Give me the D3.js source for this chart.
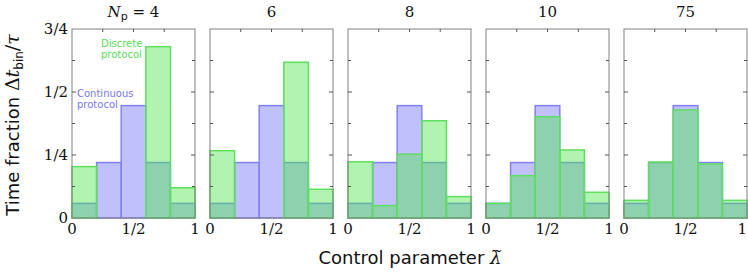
<!DOCTYPE html>
<html>
<head>
<meta charset="utf-8">
<script src="https://cdn.jsdelivr.net/npm/d3@7"></script>
<style>
  body { margin: 0; background: #fff; }
  .frame { fill: none; stroke: #808080; stroke-width: 1; }
  .tick { stroke: #555; stroke-width: 1; }
  .num { font-family: "DejaVu Serif", "Liberation Serif", serif; font-size: 15px; fill: #111; }
  .lab { font-family: "DejaVu Sans", sans-serif; font-size: 18px; fill: #111; }
  .leg { font-family: "DejaVu Sans", sans-serif; font-size: 10px; }
</style>
</head>
<body>
<script>
// panels: number of pulses N_p
var panels = ["4", "6", "8", "10", "75"];
var binEdges = [0, 0.2, 0.4, 0.6, 0.8, 1];

// continuous protocol histogram (same in every panel)
var continuous = [0.058, 0.22, 0.446, 0.22, 0.058];

// discrete protocol histograms, one per panel
var discrete = [
  [0.204, 0.0, 0.0, 0.68, 0.12],
  [0.267, 0.0, 0.0, 0.618, 0.114],
  [0.223, 0.049, 0.253, 0.386, 0.085],
  [0.058, 0.168, 0.402, 0.27, 0.102],
  [0.07, 0.222, 0.429, 0.214, 0.07]
];

var yTicks = [0, 0.25, 0.5, 0.75];
var yTickLabels = ["0", "1/4", "1/2", "3/4"];
var xTicks = [0, 0.5, 1];
var xTickLabels = ["0", "1/2", "1"];

var W = 748, H = 273;
var panelW = 123, gap = 15, left0 = 72, plotTop = 29, plotBottom = 218;

var svg = d3.select("body").append("svg").attr("width", W).attr("height", H);

var y = d3.scaleLinear().domain([0, 0.75]).range([plotBottom, plotTop]);

panels.forEach(function(p, k) {
  var x0 = left0 + k * (panelW + gap);
  var x = d3.scaleLinear().domain([0, 1]).range([x0, x0 + panelW]);
  var g = svg.append("g");

  var bins = continuous.map(function(v, i) {
    return {x0: binEdges[i], x1: binEdges[i + 1], c: v, d: discrete[k][i]};
  });

  // continuous bars
  g.selectAll("rect.cont").data(bins).enter().append("rect")
    .attr("x", function(d) { return x(d.x0); })
    .attr("width", function(d) { return x(d.x1) - x(d.x0); })
    .attr("y", function(d) { return y(d.c); })
    .attr("height", function(d) { return y(0) - y(d.c); })
    .attr("fill", "#c0c0fc")
    .attr("stroke", "#8080f2")
    .attr("stroke-width", 1.5);

  // discrete bars, translucent on top
  g.selectAll("rect.disc").data(bins).enter().append("rect")
    .attr("x", function(d) { return x(d.x0); })
    .attr("width", function(d) { return x(d.x1) - x(d.x0); })
    .attr("y", function(d) { return y(d.d); })
    .attr("height", function(d) { return y(0) - y(d.d); })
    .attr("fill", "rgba(80,230,80,0.45)")
    .attr("stroke", "#5ee05e")
    .attr("stroke-width", 1.5);

  // frame
  g.append("rect").attr("class", "frame")
    .attr("x", x0).attr("y", plotTop).attr("width", panelW).attr("height", plotBottom - plotTop);

  // y ticks (every 1/8) both sides
  d3.range(1, 6).forEach(function(i) {
    var v = i / 8, len = (i % 2 === 0) ? 4 : 3;
    g.append("line").attr("class", "tick")
      .attr("x1", x0).attr("x2", x0 + len).attr("y1", y(v)).attr("y2", y(v));
    g.append("line").attr("class", "tick")
      .attr("x1", x0 + panelW).attr("x2", x0 + panelW - len).attr("y1", y(v)).attr("y2", y(v));
  });
  // top ticks
  [0.25, 0.5, 0.75].forEach(function(v) {
    g.append("line").attr("class", "tick")
      .attr("x1", x(v)).attr("x2", x(v)).attr("y1", plotTop).attr("y2", plotTop + 3);
  });

  // x tick labels
  g.selectAll("text.xt").data(xTicks).enter().append("text")
    .attr("class", "num")
    .attr("x", function(d) { return x(d); })
    .attr("y", 234)
    .attr("text-anchor", function(d) { return (k === panels.length - 1 && d === 1) ? "end" : "middle"; })
    .text(function(d, i) { return xTickLabels[i]; });

  // title
  var t = g.append("text").attr("class", "num").attr("x", x0 + panelW / 2).attr("y", 17)
    .attr("text-anchor", "middle").attr("font-size", 16);
  if (k === 0) {
    t.append("tspan").attr("font-style", "italic").text("N");
    t.append("tspan").attr("font-family", "DejaVu Sans, sans-serif").attr("font-size", 11).attr("dy", 3).text("p");
    t.append("tspan").attr("dy", -3).text(" = " + p);
  } else {
    t.text(p);
  }
});

// y tick labels (first panel)
svg.selectAll("text.yt").data(yTicks).enter().append("text")
  .attr("class", "num")
  .attr("x", 68)
  .attr("y", function(d) { return y(d); })
  .attr("dy", "0.35em")
  .attr("text-anchor", "end")
  .text(function(d, i) { return yTickLabels[i]; });

// legend labels
var disc = svg.append("text").attr("class", "leg").attr("fill", "#55dd55");
disc.append("tspan").attr("x", 101).attr("y", 47).text("Discrete");
disc.append("tspan").attr("x", 101).attr("y", 58).text("protocol");
var cont = svg.append("text").attr("class", "leg").attr("fill", "#7878ee");
cont.append("tspan").attr("x", 77).attr("y", 97).text("Continuous");
cont.append("tspan").attr("x", 77).attr("y", 108).text("protocol");

// y axis label
var yl = svg.append("text").attr("class", "lab").attr("font-size", 17.5)
  .attr("transform", "translate(19,125) rotate(-90)")
  .attr("text-anchor", "middle");
yl.append("tspan").text("Time fraction ");
yl.append("tspan").attr("font-family", "DejaVu Serif, serif").attr("font-size", 19).text("\u0394");
yl.append("tspan").attr("font-family", "DejaVu Serif, serif").attr("font-size", 19).attr("font-style", "italic").text("t");
yl.append("tspan").attr("font-size", 12).attr("dy", 4).text("bin");
yl.append("tspan").attr("font-family", "DejaVu Serif, serif").attr("font-size", 19).attr("dy", -4).text("/");
yl.append("tspan").attr("font-family", "DejaVu Serif, serif").attr("font-size", 19).attr("font-style", "italic").text("\u03c4");

// x axis label
var xl = svg.append("text").attr("class", "lab").attr("x", 410).attr("y", 264)
  .attr("text-anchor", "middle");
xl.append("tspan").text("Control parameter ");
xl.append("tspan").attr("font-family", "DejaVu Serif, serif").attr("font-style", "italic").text("\u03bb\u0303");
</script>
</body>
</html>
